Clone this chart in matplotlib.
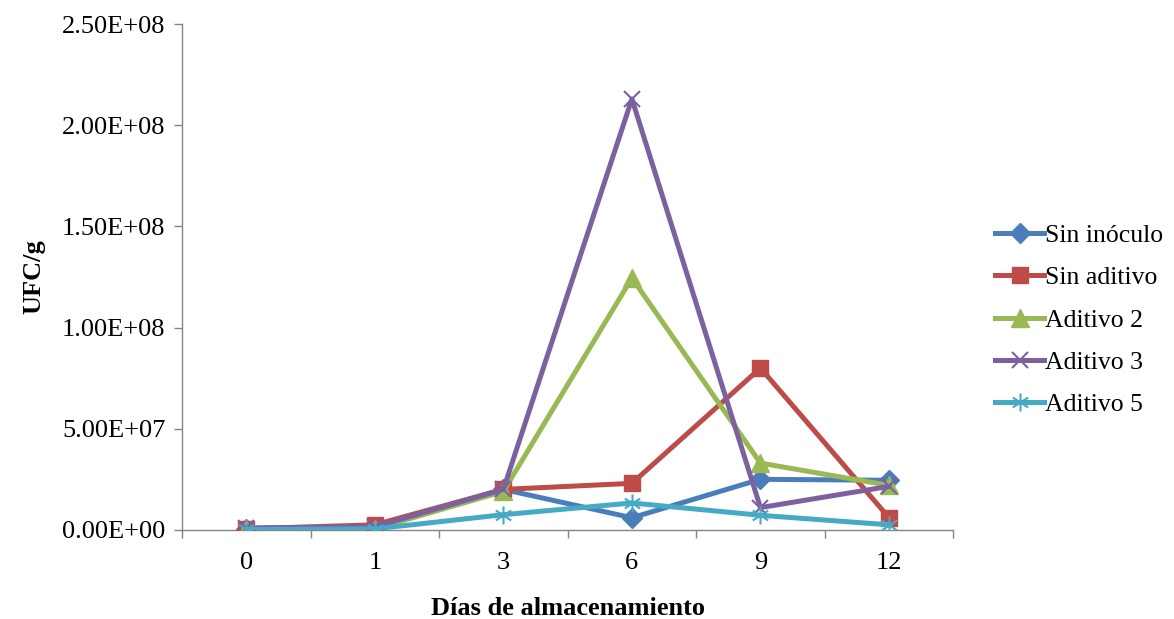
import matplotlib.pyplot as plt
import numpy as np
from matplotlib.path import Path

dias = ["0", "1", "3", "6", "9", "12"]
sin_inoculo = [0.5e6, 1.0e6, 2.0e7, 6.0e6, 2.5e7, 2.45e7]
sin_aditivo = [0.5e6, 2.5e6, 2.0e7, 2.3e7, 8.0e7, 6.0e6]
aditivo_2 = [0.3e6, 0.5e6, 1.9e7, 1.245e8, 3.3e7, 2.2e7]
aditivo_3 = [1.0e6, 1.5e6, 2.0e7, 2.13e8, 1.1e7, 2.15e7]
aditivo_5 = [0.2e6, 0.5e6, 7.5e6, 1.33e7, 7.2e6, 2.5e6]
y_ticks = [0, 5e7, 1e8, 1.5e8, 2e8, 2.5e8]
y_labels = ["0.00E+00", "5.00E+07", "1.00E+08", "1.50E+08", "2.00E+08", "2.50E+08"]

# excel style star: vertical bar plus an x
star = Path([(0, -1), (0, 1), (-0.85, -0.55), (0.85, 0.55), (-0.85, 0.55), (0.85, -0.55)],
            [Path.MOVETO, Path.LINETO] * 3)

series = [
    ("Sin inóculo", sin_inoculo, "#4a7ebb", "D", 10),
    ("Sin aditivo", sin_aditivo, "#be4b48", "s", 12),
    ("Aditivo 2", aditivo_2, "#98b954", "^", 13),
    ("Aditivo 3", aditivo_3, "#7d60a0", "x", 12),
    ("Aditivo 5", aditivo_5, "#46aac5", star, 13),
]

plt.rcParams['font.family'] = ['Liberation Serif', 'DejaVu Serif']

fig = plt.figure(figsize=(11.74, 6.19), dpi=100)
ax = fig.add_axes([0.155, 0.144, 0.657, 0.817])

x = np.arange(len(dias))
for name, vals, col, mk, ms in series:
    thin = mk == "x" or isinstance(mk, Path)
    ax.plot(x, vals, color=col, lw=3.6, marker=mk, markersize=ms,
            markeredgewidth=1.5 if thin else 1,
            markeredgecolor=col, markerfacecolor=col, label=name, zorder=3)

ax.set_xlim(-0.5, len(dias) - 0.5)
ax.set_ylim(0, 2.5e8)
ax.set_yticks(y_ticks)
ax.set_yticklabels(y_labels)
ax.set_xticks(x)
ax.set_xticklabels(dias)
ax.set_xticks(np.arange(-0.5, len(dias), 1), minor=True)
ax.tick_params(axis='x', which='major', length=0, labelsize=19, pad=16)
ax.tick_params(axis='x', which='minor', length=6, color='#868686', width=1)
ax.tick_params(axis='y', which='major', length=6, color='#868686', width=1, labelsize=19, pad=6)

for s in ("top", "right"):
    ax.spines[s].set_visible(False)
for s in ("left", "bottom"):
    ax.spines[s].set_color('#868686')
    ax.spines[s].set_linewidth(1)

ax.set_ylabel("UFC/g", fontsize=19, fontweight='bold')
ax.yaxis.set_label_coords(-0.177, 0.5)
ax.set_xlabel("Días de almacenamiento", fontsize=19, fontweight='bold')
ax.xaxis.set_label_coords(0.5, -0.132)

fig.legend(loc='center left', bbox_to_anchor=(0.839, 0.483), frameon=False,
           fontsize=18.5, handlelength=1.9, handletextpad=0.05, labelspacing=0.75,
           borderaxespad=0)

fig.savefig("out.png", dpi=100)
